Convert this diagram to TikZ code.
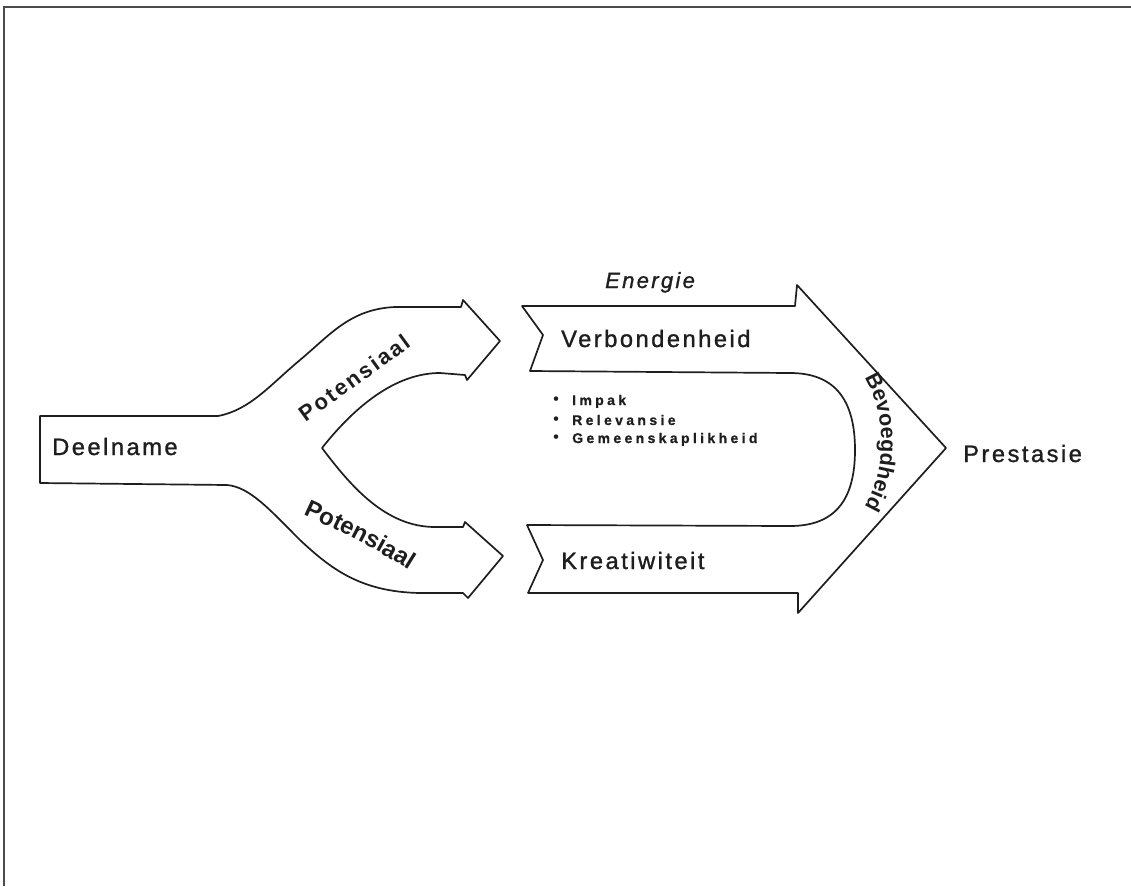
\documentclass[tikz,border=0pt]{standalone}
\usepackage{fontspec}
\setmainfont{Liberation Sans}
\newfontfamily\lblfam[LetterSpace=10.5,FakeBold=1.2]{Liberation Sans}
\newfontfamily\potfam[LetterSpace=10.5]{Liberation Sans Bold}
\newfontfamily\bulfam[LetterSpace=24,FakeBold=0.8]{Liberation Sans Bold}
\newfontfamily\bevfam{Liberation Sans Bold}
\usetikzlibrary{decorations.text}
\definecolor{ink}{HTML}{1E1E1E}
\newcommand\bevfnt{\bevfam\fontsize{21.5}{25}\selectfont\color{ink}}
\newcommand\potfnt{\potfam\fontsize{22}{26}\selectfont\color{ink}}
\newcommand\potcfnt{\bevfam\fontsize{24}{28}\selectfont\color{ink}}
\tikzset{
  outline/.style={draw=ink, line width=1.7pt, line join=round},
  frameline/.style={draw=ink!80, line width=1.6pt},
  lab/.style={inner sep=0pt, text=ink, anchor=base west, font=\lblfam\fontsize{23.7}{28}\selectfont},
  labit/.style={lab, font=\lblfam\itshape\fontsize{22}{26}\selectfont},
  pot/.style={inner sep=0pt, text=ink, font=\potfnt},
  bul/.style={inner sep=0pt, text=ink, anchor=base west, font=\bulfam\fontsize{14}{16}\selectfont},
  dot/.style={inner sep=0pt, text=ink, font=\bulfam\fontsize{15}{17}\selectfont}
}
\begin{document}
\begin{tikzpicture}[x=1pt,y=-1pt]
\useasboundingbox (0,0) rectangle (1131,886);
% frame
\draw[frameline] (3,7) -- (1131,7);
\draw[frameline] (4,7) -- (4,886);
% forked arrow
\draw[outline] (40,416) -- (218,416)
  .. controls (250,410) and (270,385) .. (300,360)
  .. controls (330,335) and (350,309) .. (395,307)
  -- (461,307) -- (463,300) -- (500,341) -- (467,380) -- (465,375)
  -- (440,373) .. controls (400,373) and (360,400) .. (322,448)
  .. controls (350,485) and (385,527) .. (435,527)
  -- (463,527) -- (465,522) -- (503,556) -- (468,598) -- (463,593)
  -- (420,593) .. controls (360,592) and (330,568) .. (300,540)
  .. controls (270,510) and (250,487) .. (227,485)
  -- (40,483) -- cycle;
% big arrow
\draw[outline] (522,306) -- (795,306) -- (797,285) -- (946,448) -- (798,613)
  -- (798,593) -- (528,593) -- (543,560) -- (527,525) -- (790,526)
  .. controls (835,526) and (855,500) .. (855,450)
  .. controls (855,400) and (835,373) .. (790,373)
  -- (530,371) -- (543,335) -- cycle;
% labels
\node[lab] (deel) at (52,455) {Deelname};
\node[pot, rotate=36] (pot1) at (354,378) {Potensiaal};
\path[decorate, decoration={text along path, text={|\potcfnt|Potensiaal}, text align=center}]
  (282,505) .. controls (327,525) and (382,550) .. (429,583);
\node[labit] (energie) at (605,288) {Energie};
\node[lab] (verb) at (561,347) {Verbondenheid};
\node[lab] (krea) at (561,569) {Kreatiwiteit};
\node[lab] (pres) at (963,462) {Prestasie};
\node[dot] (d1) at (556,400) {\textbullet};
\node[dot] (d2) at (556,420) {\textbullet};
\node[dot] (d3) at (556,438) {\textbullet};
\node[bul] (b1) at (572,405) {Impak};
\node[bul] (b2) at (572,425) {Relevansie};
\node[bul] (b3) at (572,443) {Gemeenskaplikheid};
\path[decorate, decoration={text along path, text={|\bevfnt|Bevoegdheid}, text align=center}]
  (840,352) .. controls (895,387) and (895,497) .. (840,532);
\end{tikzpicture}
\end{document}
